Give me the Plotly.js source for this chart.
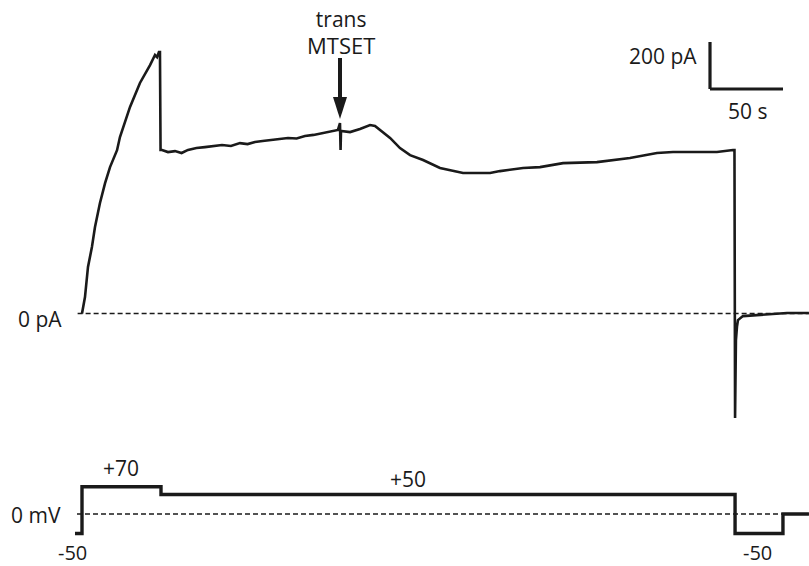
<!DOCTYPE html>
<html>
<head>
<meta charset="utf-8">
<script src="https://cdn.plot.ly/plotly-3.0.1.min.js"></script>
<style>html,body{margin:0;padding:0;background:#fff;}#chart{width:809px;height:566px;}</style>
</head>
<body>
<div id="chart"></div>
<script>
// Current trace (time in s, current in pA)
var currentTime = [0, 2.05, 4.1, 6.8, 8.9, 12.3, 15.8, 19.2, 24.0, 26.0, 32.9, 39.7, 46.6, 50.0, 51.4, 52.7, 53.4, 53.8,
  54.8, 58.9, 63.7, 68.2, 72.6, 78.4, 84.2, 90.1, 95.9, 102.0, 108.2, 113.4, 118.5, 123.7, 128.8, 135.0, 141.1, 147.0, 152.7, 158.6, 164.4, 171.2, 175.3,
  176.7, 177.1, 177.4, 183.6, 190.4, 197.3, 200.7, 204.1, 211.0, 217.8, 224.7, 233.6, 245.2,
  261.0, 279.5, 286.3, 302.1, 313.7, 329.5, 352.7, 375.3, 393.8, 404.8, 421.2, 434.9, 445.9, 446.9,
  447.3, 447.9, 448.6, 449.3, 452.7, 466.4, 482.9, 497.9];
var currentPA = [0, 70, 198, 283, 368, 470, 555, 623, 695, 751, 879, 981, 1057, 1100, 1091, 1113, 1113, 696,
  696, 687, 691, 683, 696, 704, 708, 713, 717, 713, 725, 721, 730, 734, 738, 742, 747, 745, 755, 760, 768, 777, 781,
  810, 696, 777, 772, 785, 802, 798, 781, 747, 704, 674, 653, 619,
  598, 598, 606, 619, 623, 640, 644, 662, 683, 687, 687, 687, 696, 696,
  -445, -113, -57, -28, -11, -6, 2, 2];

// Voltage protocol (time in s, voltage in mV)
var voltTime = [-4.8, 0, 0, 54.1, 54.1, 447.3, 447.3, 480.1, 480.1, 497.9];
var voltMV   = [-50, -50, 70, 70, 50, 50, -50, -50, 0, 0];

// Zero reference lines
var zeroTime = [-3, 497.9];
var zeroVal = [0, 0];

// Labels
var stepLabels = ["+70", "+50", "-50", "-50"];
var scaleBarPA = 200;
var scaleBarS = 50;

// pixel -> data helpers for layout (axes map the full 809x566 frame)
var PXS = 1.46, X0 = 82;        // px per s, x pixel of t=0
var PXPA = 0.235, Y0 = 313.5;   // px per pA, y pixel of 0 pA
var PXMV = 0.39, YV0 = 514;     // px per mV, y pixel of 0 mV
function tx(px){ return (px - X0) / PXS; }
function iy(py){ return (Y0 - py) / PXPA; }
function px(x){ return x / 809; }
function py(y){ return 1 - y / 566; }

var ink = '#1a1a1a';
var FONT = 'Open Sans';

var traces = [
  {x: zeroTime, y: zeroVal, mode: 'lines', line: {color: ink, width: 1.5, dash: '5px,3px'}, xaxis: 'x', yaxis: 'y', hoverinfo: 'skip'},
  {x: currentTime, y: currentPA, mode: 'lines', line: {color: ink, width: 2.6}, xaxis: 'x', yaxis: 'y'},
  {x: [tx(77), 497.9], y: zeroVal, mode: 'lines', line: {color: ink, width: 1.5, dash: '5px,3px'}, xaxis: 'x', yaxis: 'y2', hoverinfo: 'skip'},
  {x: voltTime, y: voltMV, mode: 'lines', line: {color: ink, width: 3.4, shape: 'linear'}, xaxis: 'x', yaxis: 'y2'}
];

var sbX = tx(710), sbY = iy(89);
var shapes = [
  // scale bar
  {type: 'line', xref: 'x', yref: 'y', x0: sbX, x1: sbX, y0: sbY, y1: sbY + scaleBarPA, line: {color: ink, width: 3.2}},
  {type: 'line', xref: 'x', yref: 'y', x0: sbX, x1: sbX + scaleBarS, y0: sbY, y1: sbY, line: {color: ink, width: 3.2}},
  // arrow shaft and head
  {type: 'line', xref: 'x', yref: 'y', x0: tx(340), x1: tx(340), y0: iy(58), y1: iy(100), line: {color: ink, width: 4}},
  {type: 'path', xref: 'x', yref: 'y', path: 'M ' + tx(333) + ' ' + iy(97) + ' L ' + tx(347) + ' ' + iy(97) + ' L ' + tx(340) + ' ' + iy(119) + ' Z', fillcolor: ink, line: {color: ink, width: 0}}
];

function lab(text, x, y, size){
  return {text: text, xref: 'paper', yref: 'paper', x: px(x), y: py(y), xanchor: 'center', yanchor: 'middle', showarrow: false, borderpad: 0, font: {family: FONT, size: size || 21, color: ink}};
}
var annotations = [
  lab('trans<br><span style="font-size:22px">MTSET</span>', 340.5, 33),
  lab(scaleBarPA + ' pA', 663, 56),
  lab(scaleBarS + ' s', 747, 111),
  lab('0 pA', 40, 319),
  lab('0 mV', 36, 515),
  lab(stepLabels[0], 121, 468),
  lab(stepLabels[1], 408, 479),
  lab(stepLabels[2], 72, 552, 20),
  lab(stepLabels[3], 757, 552, 20)
];

var layout = {
  width: 809, height: 566,
  margin: {l: 0, r: 0, t: 0, b: 0},
  paper_bgcolor: '#fff', plot_bgcolor: '#fff',
  showlegend: false,
  xaxis: {range: [tx(0), tx(809)], visible: false, fixedrange: true},
  yaxis: {range: [iy(566), iy(0)], visible: false, fixedrange: true},
  yaxis2: {range: [(YV0 - 566) / PXMV, YV0 / PXMV], visible: false, overlaying: 'y', fixedrange: true},
  shapes: shapes,
  annotations: annotations
};

Plotly.newPlot('chart', traces, layout, {staticPlot: true, displayModeBar: false});
</script>
</body>
</html>
